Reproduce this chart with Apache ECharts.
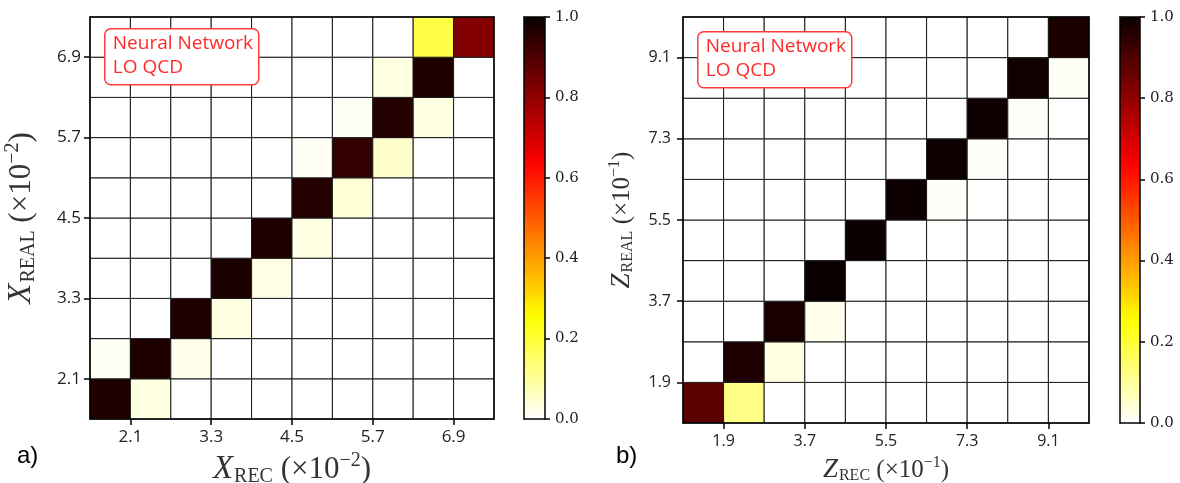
<!DOCTYPE html>
<html>
<head>
<meta charset="utf-8">
<script src="https://cdn.jsdelivr.net/npm/echarts@6/dist/echarts.min.js"></script>
<style>
  html, body { margin: 0; padding: 0; background: #fff; }
  #chart { width: 1180px; height: 483px; }
</style>
</head>
<body>
<div id="chart"></div>
<script>
// bin layout of each panel (left: x in 1e-2, right: z in 1e-1)
const binsA = { min: 1.5, step: 0.6, n: 10 };
const binsB = { min: 1.0, step: 0.9, n: 10 };

const ticksA = [2.1, 3.3, 4.5, 5.7, 6.9];
const ticksB = [1.9, 3.7, 5.5, 7.3, 9.1];

// rows = real bin (bottom -> top), cols = reconstructed bin (left -> right)
const migrationA = [
  [0.97, 0.03, 0, 0, 0, 0, 0, 0, 0, 0],
  [0.01, 0.97, 0.02, 0, 0, 0, 0, 0, 0, 0],
  [0, 0, 0.97, 0.03, 0, 0, 0, 0, 0, 0],
  [0, 0, 0, 0.975, 0.025, 0, 0, 0, 0, 0],
  [0, 0, 0, 0, 0.97, 0.03, 0, 0, 0, 0],
  [0, 0, 0, 0, 0, 0.96, 0.04, 0, 0, 0],
  [0, 0, 0, 0, 0, 0.01, 0.94, 0.05, 0, 0],
  [0, 0, 0, 0, 0, 0, 0.01, 0.96, 0.03, 0],
  [0, 0, 0, 0, 0, 0, 0, 0.03, 0.97, 0],
  [0, 0, 0, 0, 0, 0, 0, 0, 0.18, 0.82]
];

const migrationB = [
  [0.88, 0.12, 0, 0, 0, 0, 0, 0, 0, 0],
  [0, 0.97, 0.03, 0, 0, 0, 0, 0, 0, 0],
  [0, 0, 0.98, 0.02, 0, 0, 0, 0, 0, 0],
  [0, 0, 0, 1.0, 0, 0, 0, 0, 0, 0],
  [0, 0, 0, 0, 1.0, 0, 0, 0, 0, 0],
  [0, 0, 0, 0, 0, 0.995, 0.005, 0, 0, 0],
  [0, 0, 0, 0, 0, 0, 0.995, 0.005, 0, 0],
  [0, 0, 0, 0, 0, 0, 0, 0.995, 0.005, 0],
  [0, 0, 0, 0, 0, 0, 0, 0, 0.99, 0.01],
  [0, 0, 0, 0, 0, 0, 0, 0, 0, 0.975]
];

// matplotlib "hot" reversed
function hotR(v) {
  const t = 1 - v;
  const r = t < 0.365079 ? 0.0416 + (1 - 0.0416) * t / 0.365079 : 1;
  const g = t < 0.365079 ? 0 : (t < 0.746032 ? (t - 0.365079) / (0.746032 - 0.365079) : 1);
  const b = t < 0.746032 ? 0 : (t - 0.746032) / (1 - 0.746032);
  return 'rgb(' + Math.round(r * 255) + ',' + Math.round(g * 255) + ',' + Math.round(b * 255) + ')';
}
const hotStops = [];
for (let i = 0; i <= 40; i++) hotStops.push(hotR(i / 40));

function toCells(matrix, bins) {
  const out = [];
  matrix.forEach((row, r) => {
    row.forEach((v, c) => {
      out.push([bins.min + (c + 0.5) * bins.step, bins.min + (r + 0.5) * bins.step, v]);
    });
  });
  return out;
}

function cellRenderer(step) {
  return function (params, api) {
    const x = api.value(0), y = api.value(1);
    const a = api.coord([x - step / 2, y + step / 2]);
    const b = api.coord([x + step / 2, y - step / 2]);
    return {
      type: 'rect',
      shape: { x: a[0], y: a[1], width: b[0] - a[0], height: b[1] - a[1] },
      style: { fill: api.visual('color'), stroke: '#1a1a1a', lineWidth: 1 }
    };
  };
}

const LINE = { show: true, onZero: false, lineStyle: { color: '#000', width: 1.5 } };
const TICK_STYLE = { color: '#000', width: 1.5 };

// left panel text is drawn a little bigger than the right one
function nameRich(k) {
  const f = 'Liberation Serif';
  return {
    x: { fontFamily: f, fontStyle: 'italic', fontSize: Math.round(27 * k), color: '#333' },
    sub: { fontFamily: f, fontSize: Math.round(16 * k), color: '#333', padding: [Math.round(12 * k), 0, 0, 1] },
    t: { fontFamily: f, fontSize: Math.round(25 * k), color: '#333' },
    sup: { fontFamily: f, fontSize: Math.round(16 * k), color: '#333', padding: [0, 0, Math.round(14 * k), 0] }
  };
}

function axisName(sym, sub, exp) {
  return '{x|' + sym + '}{sub|' + sub + '}{t| (×10}{sup|−' + exp + '}{t|)}';
}

function heatAxis(gridIndex, position, bins, ticks, name, gap, margin, k, labelSize) {
  return {
    type: 'value', gridIndex, position, z: 10,
    min: bins.min, max: bins.min + bins.n * bins.step,
    name, nameLocation: 'middle', nameGap: gap,
    nameTextStyle: { rich: nameRich(k) },
    axisLine: LINE,
    axisTick: { show: true, customValues: ticks, length: 6, lineStyle: TICK_STYLE },
    axisLabel: {
      customValues: ticks, formatter: v => v.toFixed(1), margin,
      fontFamily: 'Open Sans', fontSize: labelSize, color: '#222'
    },
    splitLine: { show: false }
  };
}

function frameAxis(gridIndex, position, min, max) {
  return {
    type: 'value', gridIndex, position, z: 10, min, max,
    axisLine: LINE, axisTick: { show: false }, axisLabel: { show: false },
    splitLine: { show: false }
  };
}

function colorbarAxis(gridIndex) {
  return {
    type: 'value', gridIndex, position: 'right', z: 10, min: 0, max: 1, interval: 0.2,
    axisLine: LINE,
    axisTick: { show: true, length: 5, lineStyle: TICK_STYLE },
    axisLabel: {
      formatter: v => v.toFixed(1), margin: 10,
      fontFamily: 'DejaVu Serif', fontSize: 15, color: '#222'
    },
    splitLine: { show: false }
  };
}

const maxA = binsA.min + binsA.n * binsA.step;
const maxB = binsB.min + binsB.n * binsB.step;

function legendBox(left, top) {
  return {
    type: 'group', left, top,
    children: [
      { type: 'rect', z: 100, shape: { x: 0, y: 0, width: 154, height: 56, r: 6 },
        style: { fill: '#fff', stroke: '#ff3b3b', lineWidth: 1.5 } },
      { type: 'text', z: 101, x: 8, y: 3,
        style: { text: 'Neural Network\nLO QCD', font: '19px "Open Sans"', fill: '#ff2a2a', lineHeight: 24 } }
    ]
  };
}

const chart = echarts.init(document.getElementById('chart'));
chart.setOption({
  animation: false,
  backgroundColor: '#fff',
  grid: [
    { left: 90, top: 17, width: 404, height: 402, outerBoundsMode: 'none' },
    { left: 524, top: 17, width: 21, height: 402, outerBoundsMode: 'none' },
    { left: 683, top: 17, width: 406, height: 406, outerBoundsMode: 'none' },
    { left: 1120, top: 17, width: 20, height: 406, outerBoundsMode: 'none' }
  ],
  xAxis: [
    heatAxis(0, 'bottom', binsA, ticksA, axisName('X', 'REC', 2), 32, 10, 1.22, 17),
    frameAxis(0, 'top', binsA.min, maxA),
    frameAxis(1, 'bottom', 0, 1),
    frameAxis(1, 'top', 0, 1),
    heatAxis(2, 'bottom', binsB, ticksB, axisName('Z', 'REC', 1), 32, 10, 1, 16),
    frameAxis(2, 'top', binsB.min, maxB),
    frameAxis(3, 'bottom', 0, 1),
    frameAxis(3, 'top', 0, 1)
  ],
  yAxis: [
    heatAxis(0, 'left', binsA, ticksA, axisName('X', 'REAL', 2), 50, 9, 1.22, 17),
    frameAxis(0, 'right', binsA.min, maxA),
    frameAxis(1, 'left', 0, 1),
    colorbarAxis(1),
    heatAxis(2, 'left', binsB, ticksB, axisName('Z', 'REAL', 1), 46, 12, 1, 16),
    frameAxis(2, 'right', binsB.min, maxB),
    frameAxis(3, 'left', 0, 1),
    colorbarAxis(3)
  ],
  visualMap: [
    { type: 'continuous', seriesIndex: 0, dimension: 2, min: 0, max: 1,
      calculable: false, hoverLink: false, left: 524, top: 17, padding: 0,
      itemWidth: 21, itemHeight: 402, inRange: { color: hotStops } },
    { type: 'continuous', seriesIndex: 1, dimension: 2, min: 0, max: 1,
      calculable: false, hoverLink: false, left: 1120, top: 17, padding: 0,
      itemWidth: 20, itemHeight: 406, inRange: { color: hotStops } }
  ],
  series: [
    { type: 'custom', xAxisIndex: 0, yAxisIndex: 0, data: toCells(migrationA, binsA),
      renderItem: cellRenderer(binsA.step) },
    { type: 'custom', xAxisIndex: 4, yAxisIndex: 4, data: toCells(migrationB, binsB),
      renderItem: cellRenderer(binsB.step) }
  ],
  graphic: [
    legendBox(104, 28),
    legendBox(697, 31),
    { type: 'text', left: 17, top: 444, style: { text: 'a)', font: '24px "Liberation Sans"', fill: '#000' } },
    { type: 'text', left: 616, top: 444, style: { text: 'b)', font: '24px "Liberation Sans"', fill: '#000' } }
  ]
});
</script>
</body>
</html>
